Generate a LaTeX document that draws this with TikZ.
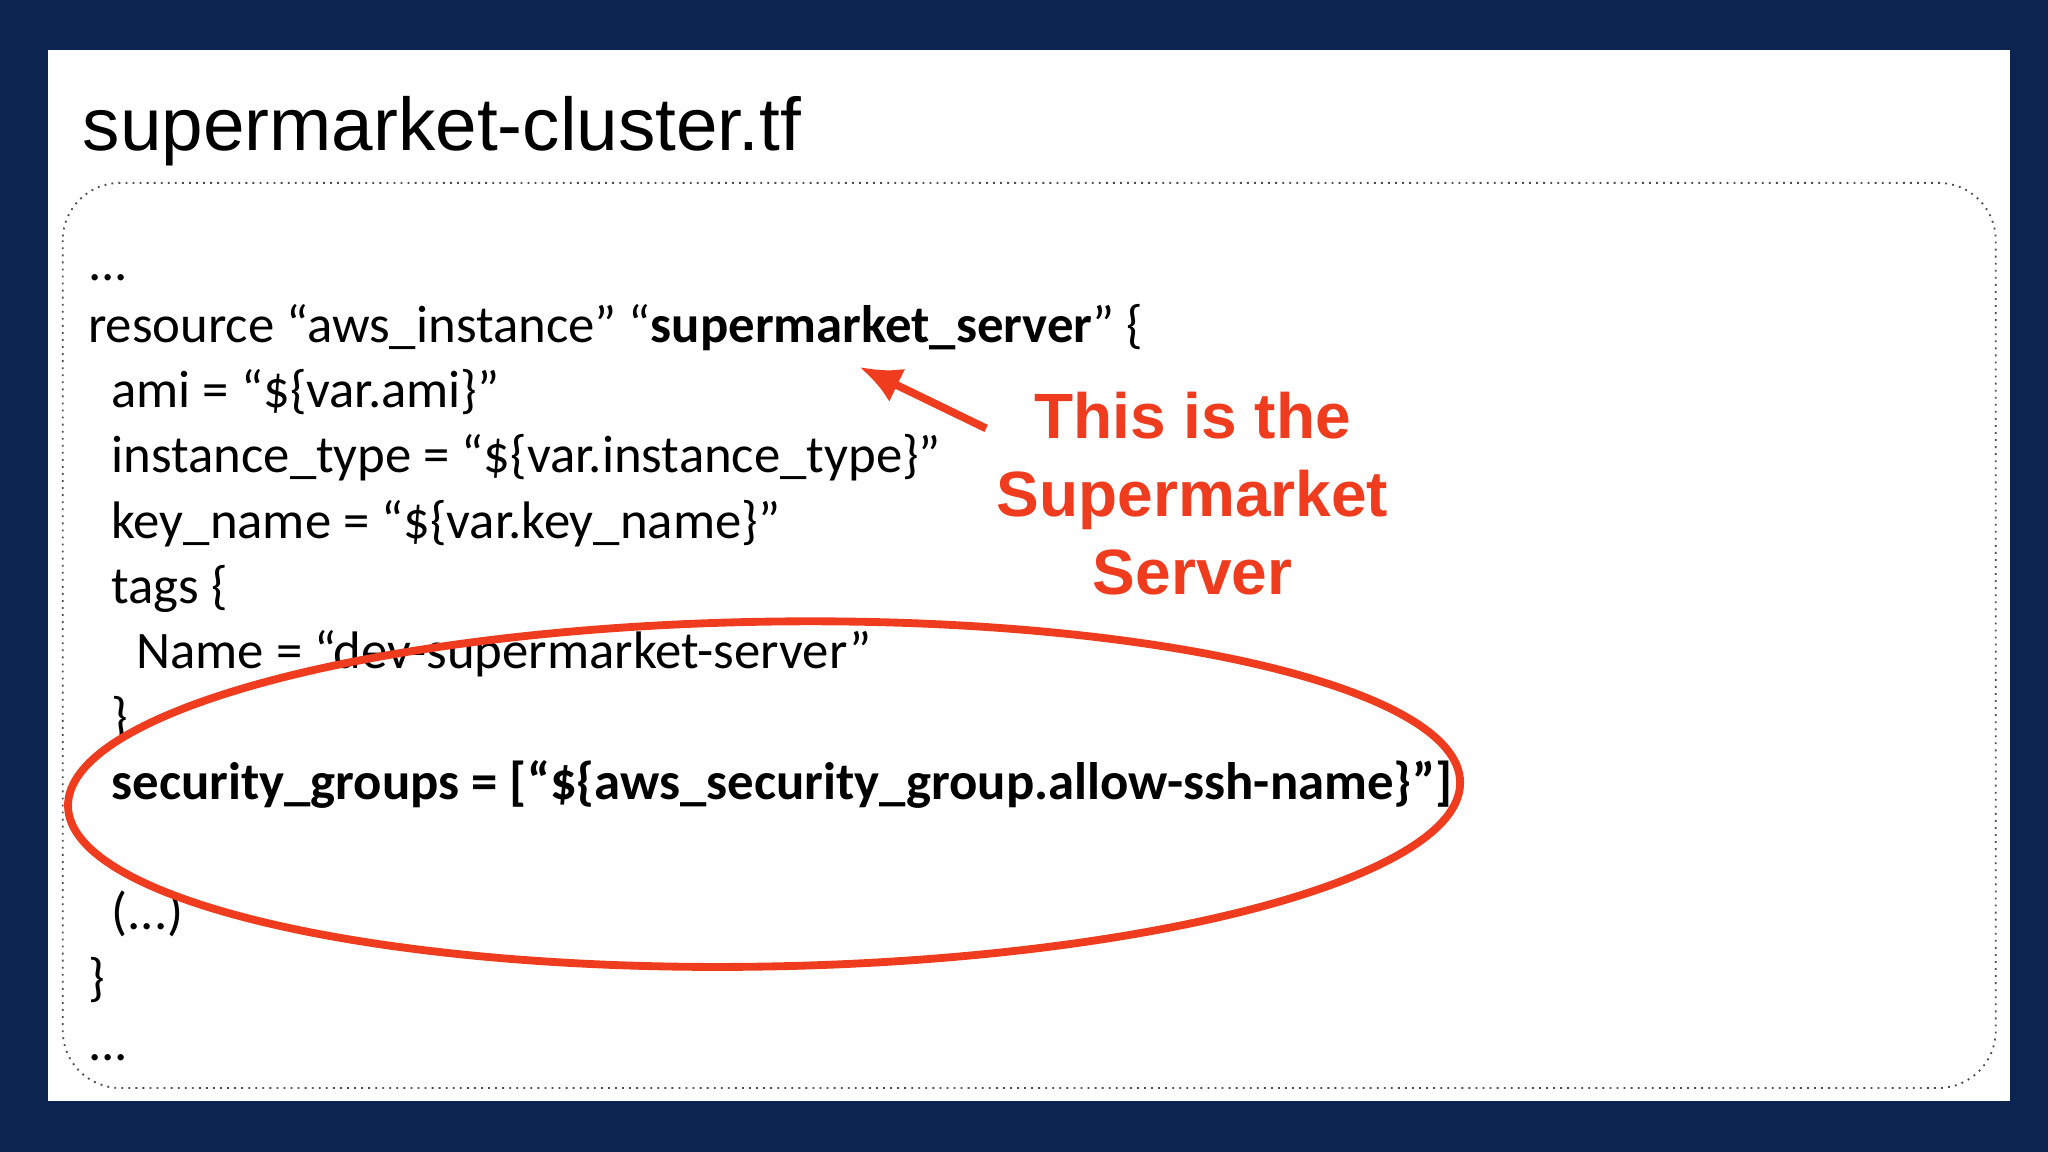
\documentclass[tikz,border=0pt]{standalone}
\usepackage{fontspec}
\usetikzlibrary{arrows.meta}
\setmainfont{Carlito}
\newfontfamily\titlefont{Liberation Sans}
\definecolor{navy}{HTML}{0B2550}
\definecolor{redc}{HTML}{F03C1E}
\begin{document}
\begin{tikzpicture}[x=0.5pt,y=-0.5pt,
  code/.style={anchor=base west,inner sep=0pt,font=\fontsize{20.2}{22}\selectfont},
  redtxt/.style={text=redc,font=\titlefont\bfseries\fontsize{24.5}{30}\selectfont,align=center}]
\fill[navy] (0,0) rectangle (1568,882);
\useasboundingbox (0,0) rectangle (1568,882);
\fill[white] (37,38) rectangle (1539,843);
\node[anchor=base west,inner sep=0pt,font=\titlefont\fontsize{28.6}{30}\selectfont] (title) at (63,115) {supermarket-cluster.tf};
\draw[black!70,dotted,line width=0.7pt,rounded corners=22pt] (48,140) rectangle (1528,833);
\node[code] (l1) at (67,215) {...};
\node[code] (l2) at (67,262) {resource “aws\_instance” “\textbf{supermarket\_server}” \{};
\node[code] (l3) at (85,312) {ami = “\$\{var.ami\}”};
\node[code] (l4) at (85,362) {instance\_type = “\$\{var.instance\_type\}”};
\node[code] (l5) at (85,412) {key\_name = “\$\{var.key\_name\}”};
\node[code] (l6) at (85,462) {tags \{};
\node[code] (l7) at (104,512) {Name = “dev-supermarket-server”};
\node[code] (l8) at (85,562) {\}};
\node[code] (l9) at (85,612) {\textbf{security\_groups = [“\$\{aws\_security\_group.allow-ssh-name\}”]}};
\node[code] (l10) at (85,712) {(...)};
\node[code] (l11) at (67,762) {\}};
\node[code] (l12) at (67,812) {...};
\node[redtxt] (note) at (913,378) {This is the\\Supermarket\\Server};
\coordinate (tail) at (755,328);
\coordinate (head) at (658,281);
\draw[redc,line width=3pt,-{Latex[length=16pt,width=14pt]}] (tail) -- (head);
\draw[redc,line width=3pt,rotate around={1:(585,608)}] (585,608) ellipse [x radius=533,y radius=132];
\end{tikzpicture}
\end{document}
